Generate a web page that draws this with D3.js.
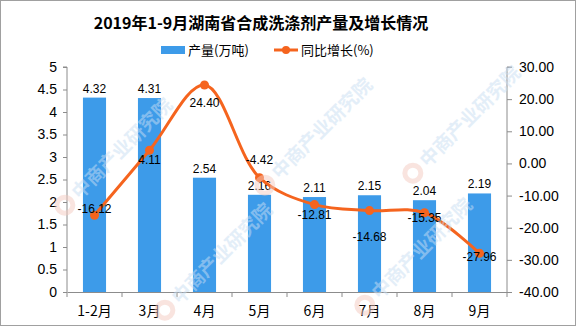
<!DOCTYPE html>
<html>
<head>
<meta charset="utf-8">
<script src="https://cdn.jsdelivr.net/npm/d3@7"></script>
<style>
  html, body { margin: 0; padding: 0; background: #fff; }
  svg { display: block; }
</style>
</head>
<body>
<svg id="chart" width="576" height="327"></svg>
<script>
// ---- data ----
const categories = ["1-2月", "3月", "4月", "5月", "6月", "7月", "8月", "9月"];
const production = [4.32, 4.31, 2.54, 2.16, 2.11, 2.15, 2.04, 2.19];
const growth = [-16.12, 4.11, 24.40, -4.42, -12.81, -14.68, -15.35, -27.96];
const leftTicks = [0, 0.5, 1, 1.5, 2, 2.5, 3, 3.5, 4, 4.5, 5];
const rightTicks = [-40, -30, -20, -10, 0, 10, 20, 30];
const title = "2019年1-9月湖南省合成洗涤剂产量及增长情况";
const seriesNames = ["产量(万吨)", "同比增长(%)"];

// layout constants (label nudges for the growth line, in px)
const growthLabelDy = [-2, 14, 22, -14, 14, 30, 9, 8];

const W = 576, H = 327;
const m = { left: 67, right: 69, top: 67, bottom: 35 };
const svg = d3.select("#chart");
const font = "'Liberation Sans', 'Noto Sans CJK SC', sans-serif";
const cjk = "'Noto Sans CJK SC', sans-serif";
const axisColor = "#8c8c8c";
const barColor = "#3d9be9";
const lineColor = "#f5641e";

svg.append("rect").attr("x", 0.5).attr("y", 0.5).attr("width", W - 1).attr("height", H - 2)
  .attr("fill", "#fff").attr("stroke", "#a0a0a0");

const x = d3.scaleBand().domain(categories).range([m.left, W - m.right]).paddingInner(0).paddingOuter(0);
const yL = d3.scaleLinear().domain([0, 5]).range([H - m.bottom, m.top]);
const yR = d3.scaleLinear().domain([-40, 30]).range([H - m.bottom, m.top]);

const barW = x.bandwidth() * 0.42;

// watermark (drawn under the marks' labels but faint)
const wmSpots = [[120, 150], [320, 130], [468, 118], [220, 255], [420, 250]];
const wm = svg.append("g").attr("pointer-events", "none");

// bars
svg.append("g").selectAll("rect").data(production).join("rect")
  .attr("x", (d, i) => x(categories[i]) + x.bandwidth() / 2 - barW / 2)
  .attr("y", d => yL(d))
  .attr("width", barW)
  .attr("height", d => yL(0) - yL(d))
  .attr("fill", barColor);

// bar labels
svg.append("g").selectAll("text").data(production).join("text")
  .attr("x", (d, i) => x(categories[i]) + x.bandwidth() / 2)
  .attr("y", d => yL(d) - 5)
  .attr("text-anchor", "middle")
  .attr("font-family", font).attr("font-size", 12).attr("fill", "#000")
  .text(d => d.toFixed(2));

// axes
const axL = d3.axisLeft(yL).tickValues(leftTicks).tickSize(4).tickPadding(6).tickFormat(d => String(d));
const gL = svg.append("g").attr("transform", `translate(${m.left},0)`).call(axL);
const axR = d3.axisRight(yR).tickValues(rightTicks).tickSize(5).tickPadding(7).tickFormat(d => d.toFixed(2));
const gR = svg.append("g").attr("transform", `translate(${W - m.right},0)`).call(axR);
const axB = d3.axisBottom(x).tickSize(0).tickPadding(14);
const gB = svg.append("g").attr("transform", `translate(0,${H - m.bottom})`).call(axB);

// boundary ticks on x axis
svg.append("g").selectAll("line").data(categories.concat([null])).join("line")
  .attr("x1", (d, i) => m.left + i * x.bandwidth())
  .attr("x2", (d, i) => m.left + i * x.bandwidth())
  .attr("y1", H - m.bottom).attr("y2", H - m.bottom + 5)
  .attr("stroke", axisColor);

[gL, gR, gB].forEach(g => {
  g.select(".domain").attr("stroke", axisColor);
  g.selectAll(".tick line").attr("stroke", axisColor);
  g.selectAll(".tick text").attr("fill", "#000").attr("font-family", font).attr("font-size", 14);
});
gB.selectAll(".tick text").attr("font-family", cjk).attr("font-size", 14);
gL.select(".domain").attr("d", `M-4,${yL(5)}H0V${yL(0)}`);
gR.select(".domain").attr("d", `M5,${yR(30)}H0V${yR(-40)}`);

// growth line
const cx = i => x(categories[i]) + x.bandwidth() / 2;
const line = d3.line().x((d, i) => cx(i)).y(d => yR(d)).curve(d3.curveCatmullRom.alpha(0.5));
svg.append("path").datum(growth).attr("d", line)
  .attr("fill", "none").attr("stroke", lineColor).attr("stroke-width", 3);
svg.append("g").selectAll("circle").data(growth).join("circle")
  .attr("cx", (d, i) => cx(i)).attr("cy", d => yR(d)).attr("r", 4.5).attr("fill", lineColor);
svg.append("g").selectAll("text").data(growth).join("text")
  .attr("x", (d, i) => cx(i))
  .attr("y", (d, i) => yR(d) + growthLabelDy[i])
  .attr("text-anchor", "middle")
  .attr("font-family", font).attr("font-size", 12).attr("fill", "#000")
  .text(d => d.toFixed(2));

// title
svg.append("text").attr("x", 261).attr("y", 29).attr("text-anchor", "middle")
  .attr("font-family", cjk).attr("font-weight", "bold").attr("font-size", 16).attr("fill", "#000")
  .text(title);

// legend
const lg = svg.append("g");
lg.append("rect").attr("x", 161).attr("y", 46).attr("width", 24).attr("height", 8).attr("fill", barColor);
lg.append("text").attr("x", 188).attr("y", 55).attr("font-family", cjk).attr("font-size", 13).text(seriesNames[0]);
lg.append("line").attr("x1", 274).attr("x2", 298).attr("y1", 50).attr("y2", 50).attr("stroke", lineColor).attr("stroke-width", 3);
lg.append("circle").attr("cx", 286).attr("cy", 50).attr("r", 4).attr("fill", lineColor);
lg.append("text").attr("x", 301).attr("y", 55).attr("font-family", cjk).attr("font-size", 13).text(seriesNames[1]);

// watermark on top, faint
svg.node().appendChild(wm.node());
wmSpots.forEach(([wx, wy]) => {
  const g = wm.append("g").attr("transform", `translate(${wx},${wy}) rotate(-45)`);
  g.append("circle").attr("cx", -78).attr("cy", 0).attr("r", 8).attr("fill", "none")
    .attr("stroke", "#f3c9bf").attr("stroke-width", 5).attr("opacity", 0.5);
  g.append("text").attr("x", -64).attr("y", 7).attr("font-family", cjk).attr("font-weight", "bold")
    .attr("font-size", 19).attr("fill", "#c9def3").attr("opacity", 0.5).text("中商产业研究院");
});
</script>
</body>
</html>
